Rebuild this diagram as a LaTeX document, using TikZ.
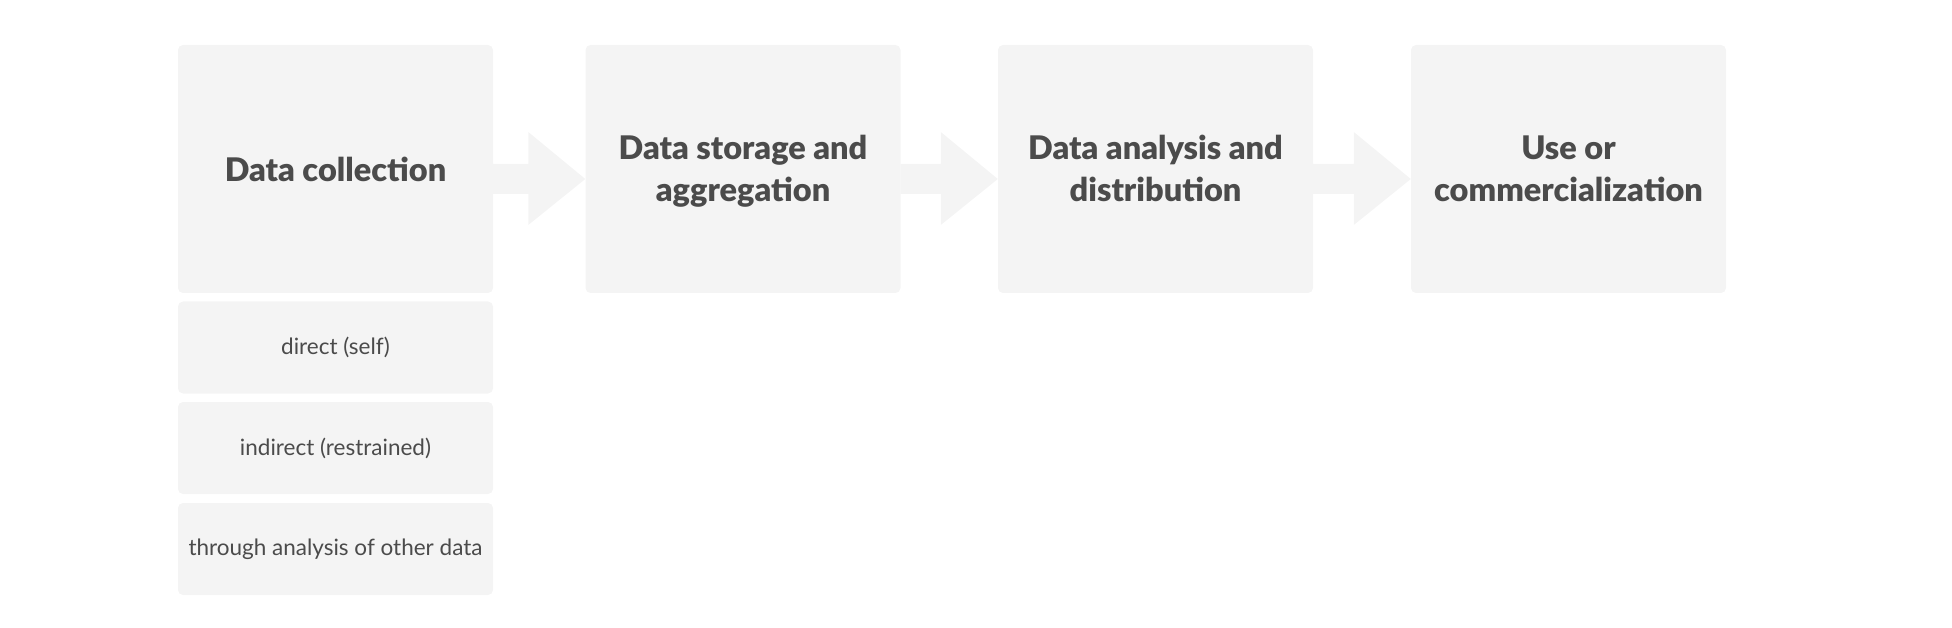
\documentclass[tikz,border=0pt]{standalone}
\usepackage{fontspec}
\setmainfont{Lato}
\newfontfamily\headfont{Lato Black}
\usetikzlibrary{calc}
\definecolor{boxgray}{HTML}{F4F4F4}
\definecolor{txtgray}{HTML}{4B4B4B}
\tikzset{
  stage/.style={fill=boxgray, rounded corners=5pt, minimum width=315pt, minimum height=248pt, inner sep=0pt, text=txtgray, font=\fontsize{32.5}{42}\selectfont\headfont, align=center},
  stagetext/.style={text=txtgray, font=\fontsize{32.5}{42}\selectfont\headfont, align=center, text depth=0pt, yshift=0.5pt, inner sep=0pt},
  sub/.style={fill=boxgray, rounded corners=5pt, minimum width=315pt, minimum height=92pt, inner sep=0pt, text=txtgray, font=\fontsize{22.5}{26}\selectfont},
  flow/.style={fill=boxgray}
}
\newcommand{\flowarrow}[2]{%
  \fill[flow] ($(#1.east)+(0,-5)$) -- ($(#2.west)+(-57,-5)$) -- ($(#2.west)+(-57,-37)$) -- ($(#2.west)+(0,10)$) -- ($(#2.west)+(-57,56)$) -- ($(#2.west)+(-57,25)$) -- ($(#1.east)+(0,25)$) -- cycle;}
\begin{document}
\begin{tikzpicture}[x=1pt,y=-1pt]
\useasboundingbox (0,0) rectangle (1952,628);
\node[stage] (b1) at (335.5,169) {Data collection};
\node[stage, label={[stagetext]center:{Data storage and\\aggregation}}] (b2) at (743,169) {};
\node[stage, label={[stagetext]center:{Data analysis and\\distribution}}] (b3) at (1155.5,169) {};
\node[stage, label={[stagetext]center:{Use or\\commercialization}}] (b4) at (1568.5,169) {};
\node[sub] (s1) at (335.5,347.5) {direct (self)};
\node[sub] (s2) at (335.5,448) {indirect (restrained)};
\node[sub] (s3) at (335.5,549) {through analysis of other data};
\flowarrow{b1}{b2}
\flowarrow{b2}{b3}
\flowarrow{b3}{b4}
\end{tikzpicture}
\end{document}
